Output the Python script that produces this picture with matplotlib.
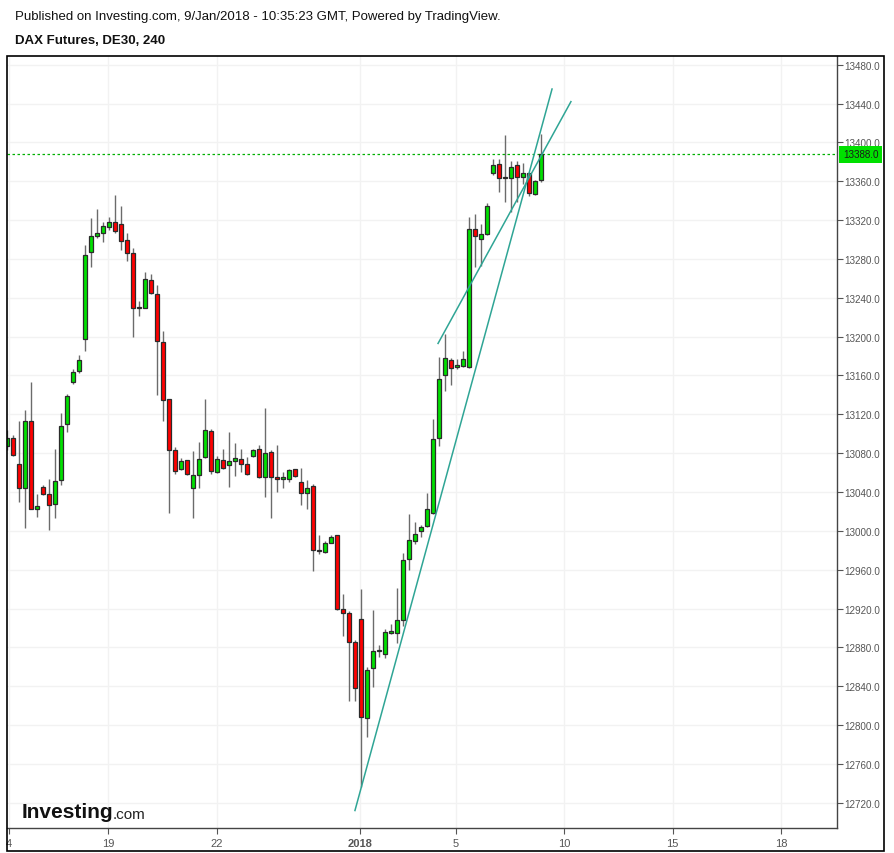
import numpy as np
import matplotlib.pyplot as plt
import matplotlib.transforms as mtransforms
from matplotlib.patches import Rectangle

plt.rcParams['font.family'] = ['Liberation Sans', 'DejaVu Sans']

# 4h candles, DAX futures
opens = [13087, 13096, 13069, 13044, 13113, 13023, 13045, 13038, 13028, 13052,
         13110, 13153, 13165, 13198, 13287, 13304, 13307, 13313, 13318, 13316,
         13300, 13286, 13231, 13230, 13258, 13244, 13194, 13136, 13083, 13064,
         13073, 13044, 13058, 13076, 13103, 13061, 13073, 13068, 13072, 13074,
         13069, 13077, 13084, 13055, 13081, 13055, 13053, 13053, 13064, 13050,
         13039, 13046, 12980, 12978, 12988, 12996, 12920, 12915, 12886, 12909,
         12807, 12859, 12876, 12873, 12895, 12895, 12908, 12971, 12990, 13000,
         13005, 13018, 13096, 13160, 13176, 13169, 13170, 13169, 13311, 13301,
         13306, 13368, 13378, 13364, 13363, 13377, 13364, 13368, 13347, 13361]
highs = [13104, 13099, 13113, 13124, 13153, 13038, 13047, 13053, 13084, 13121,
         13141, 13167, 13181, 13294, 13322, 13331, 13318, 13323, 13346, 13335,
         13307, 13291, 13237, 13267, 13264, 13253, 13206, 13136, 13086, 13075,
         13073, 13082, 13091, 13136, 13105, 13077, 13084, 13102, 13090, 13084,
         13076, 13084, 13088, 13127, 13083, 13088, 13061, 13064, 13064, 13065,
         13052, 13048, 12996, 12990, 12996, 12996, 12935, 12917, 12888, 12940,
         12860, 12918, 12882, 12899, 12904, 12941, 12977, 13017, 13009, 13006,
         13039, 13115, 13179, 13203, 13178, 13177, 13185, 13323, 13326, 13316,
         13338, 13383, 13383, 13408, 13381, 13381, 13379, 13368, 13361, 13409]
lows = [13083, 13077, 13030, 13003, 13022, 13014, 13037, 13001, 13013, 13047,
        13102, 13151, 13163, 13185, 13272, 13302, 13297, 13310, 13307, 13289,
        13278, 13200, 13221, 13229, 13244, 13140, 13113, 13018, 13059, 13063,
        13058, 13013, 13044, 13075, 13059, 13060, 13064, 13045, 13056, 13061,
        13058, 13076, 13054, 13035, 13013, 13040, 13044, 13050, 13055, 13027,
        13022, 12959, 12976, 12977, 12987, 12919, 12892, 12825, 12825, 12736,
        12788, 12839, 12870, 12869, 12894, 12885, 12902, 12960, 12986, 12994,
        13004, 13017, 13087, 13144, 13150, 13167, 13169, 13168, 13272, 13273,
        13305, 13366, 13349, 13339, 13328, 13339, 13357, 13345, 13346, 13359]
closes = [13096, 13078, 13044, 13113, 13023, 13026, 13038, 13027, 13051, 13108,
          13139, 13164, 13176, 13284, 13304, 13307, 13314, 13318, 13309, 13299,
          13286, 13230, 13229, 13259, 13245, 13195, 13135, 13083, 13062, 13072,
          13059, 13058, 13074, 13104, 13062, 13074, 13065, 13072, 13075, 13069,
          13059, 13083, 13055, 13080, 13055, 13053, 13055, 13063, 13056, 13039,
          13044, 12980, 12979, 12988, 12994, 12920, 12915, 12886, 12838, 12808,
          12857, 12876, 12877, 12896, 12897, 12908, 12970, 12991, 12997, 13004,
          13022, 13095, 13156, 13178, 13168, 13171, 13177, 13311, 13304, 13306,
          13335, 13377, 13363, 13363, 13375, 13364, 13369, 13348, 13360, 13388]

last_price = 13388

# drawn trend lines (candle index, price)
trend1_x = [57.95, 90.8]
trend1_y = [12712, 13455]
trend2_x = [71.8, 93.95]
trend2_y = [13193, 13442]

tick_pos = [0.3, 16.8, 34.9, 58.8, 74.8, 92.8, 110.9, 128.95]
tick_lbl = ["4", "19", "22", "2018", "5", "10", "15", "18"]
price_ticks = np.arange(12720, 13481, 40)

W, H = 894, 854
fig = plt.figure(figsize=(W / 100, H / 100), dpi=100)
ax = fig.add_axes([7 / W, (H - 829) / H, (837 - 7) / W, (829 - 57) / H])

x = np.arange(len(opens))
o = np.array(opens, dtype=float)
c = np.array(closes, dtype=float)
up = c >= o
col = np.where(up, '#00e000', '#ff0000')

ax.vlines(x, lows, highs, color='#6b6b6b', lw=1.0, zorder=2)
body_lo = np.minimum(o, c)
body_h = np.maximum(np.abs(c - o), 1.2)
ax.bar(x, body_h, bottom=body_lo, width=0.72, color=col,
       edgecolor='#2b2b2b', linewidth=0.9, zorder=3)

ax.plot(trend1_x, trend1_y, color='#2fa595', lw=1.1, zorder=4)
ax.plot(trend2_x, trend2_y, color='#2fa595', lw=1.1, zorder=4)

ax.axhline(last_price, color='#00b000', lw=0.9, ls=(0, (2, 2)), zorder=1)

ax.set_xlim(-0.05, 138.3)
ax.set_ylim(12694, 13489)

ax.set_yticks(price_ticks)
ax.set_yticklabels([f"{v:.1f}" for v in price_ticks])
ax.yaxis.tick_right()
ax.set_xticks(tick_pos)
ax.set_xticklabels(tick_lbl)
for lbl in ax.get_xticklabels():
    if lbl.get_text() == "2018":
        lbl.set_fontweight('bold')
ax.tick_params(axis='y', direction='out', length=4, color='#555555',
               labelcolor='#555555', labelsize=7.1, pad=1.5)
ax.tick_params(axis='x', direction='out', length=4, color='#555555',
               labelcolor='#555555', labelsize=8, pad=3)
ax.grid(True, color='#f2f2f2', lw=1.0)
ax.set_axisbelow(True)
for s in ['top', 'left']:
    ax.spines[s].set_visible(False)
for s in ['right', 'bottom']:
    ax.spines[s].set_color('#444444')
    ax.spines[s].set_linewidth(1.0)

# last price label on the axis
trans = mtransforms.blended_transform_factory(ax.transAxes, ax.transData)
ax.text(1.007, last_price, "13388.0", transform=trans, ha='left', va='center',
        fontsize=7.1, color='#1a1a1a', clip_on=False, zorder=6,
        bbox=dict(boxstyle='square,pad=0.35', fc='#00e000', ec='none'))

# outer frame
fig.patches.append(Rectangle((7 / W, 2 / H), (884 - 7) / W, (852 - 57) / H,
                             transform=fig.transFigure, fill=False,
                             ec='black', lw=1.2))

fig.text(15 / W, 1 - 17 / H, "Published on Investing.com, 9/Jan/2018 - 10:35:23 GMT, Powered by TradingView.",
         fontsize=9.5, color='#111111', va='center')
fig.text(15 / W, 1 - 41 / H, "DAX Futures, DE30, 240", fontsize=9.5,
         fontweight='bold', color='#111111', va='center')

# watermark logo
fig.text(22 / W, 1 - 813 / H, "Investing", fontsize=15, fontweight='bold',
         color='#111111', va='center')
fig.text(113 / W, 1 - 815 / H, ".com", fontsize=11, color='#222222', va='center')

fig.savefig("out.png", dpi=100)
